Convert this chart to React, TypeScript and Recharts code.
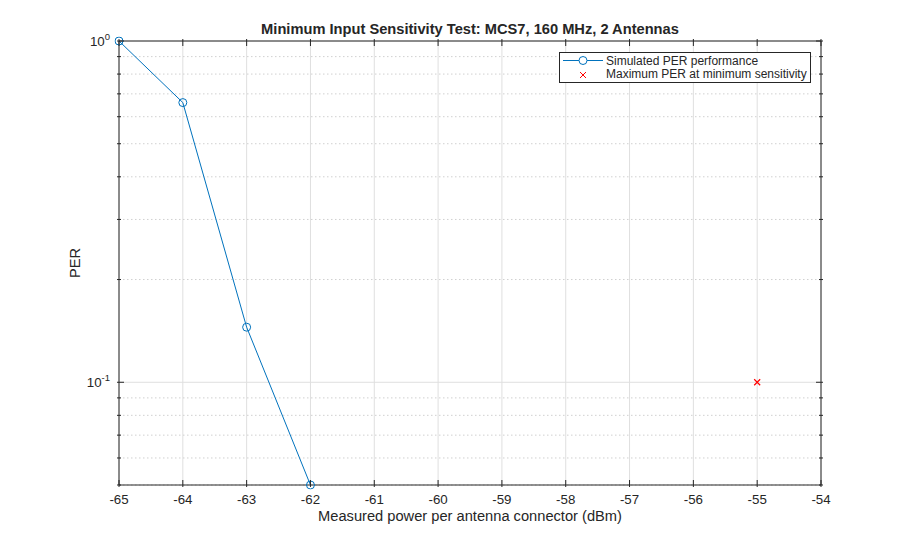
import { LineChart, Line, XAxis, YAxis, ReferenceLine } from 'recharts';

// ---------------------------------------------------------------------------
// Data
// ---------------------------------------------------------------------------

const powerLevels = [-65, -64, -63, -62];
const perValues = [1, 0.66, 0.145, 0.05];

const thresholdPower = [-55];
const thresholdPer = [0.1];

const xTicks = [-65, -64, -63, -62, -61, -60, -59, -58, -57, -56, -55, -54];
const yMajorTicks = [0.1, 1];
const yMinorTicks = [0.05, 0.06, 0.07, 0.08, 0.09, 0.2, 0.3, 0.4, 0.5, 0.6, 0.7, 0.8, 0.9];
const yTicks = [...yMinorTicks, ...yMajorTicks].sort((a, b) => a - b);
const yExponents: Record<number, string> = { 0.1: '-1', 1: '0' };

const seriesNames = ['Simulated PER performance', 'Maximum PER at minimum sensitivity'];
const chartTitle = 'Minimum Input Sensitivity Test: MCS7, 160 MHz, 2 Antennas';
const xLabel = 'Measured power per antenna connector (dBm)';
const yLabel = 'PER';

const perData = powerLevels.map((p, i) => ({ power: p, per: perValues[i] }));
const thresholdData = thresholdPower.map((p, i) => ({ power: p, per: thresholdPer[i] }));

const FONT = '"Liberation Sans", Arial, Helvetica, sans-serif';
const INK = '#262626';
const BLUE = '#0072BD';
const RED = '#FF0000';
const GRID = '#dfdfdf';
const MINOR_GRID = '#d0d0d0';

export default function App() {
  return (
    <div style={{ position: 'absolute', left: 0, top: 0, width: 908, height: 546, background: '#fff' }}>
      <LineChart
        width={908}
        height={546}
        margin={{ top: 40, right: 86, bottom: 60, left: 118 }}
      >
        {/* grid */}
        {xTicks.map((t) => (
          <ReferenceLine key={'gx' + t} x={t} stroke={GRID} strokeWidth={1} />
        ))}
        {yMinorTicks.map((t) => (
          <ReferenceLine key={'gm' + t} y={t} stroke={MINOR_GRID} strokeWidth={1} strokeDasharray="1.5 2.5" />
        ))}
        {yMajorTicks.map((t) => (
          <ReferenceLine key={'gy' + t} y={t} stroke={GRID} strokeWidth={1} />
        ))}

        <XAxis
          dataKey="power"
          type="number"
          domain={[-65, -54]}
          ticks={xTicks}
          interval={0}
          height={1}
          tickSize={0}
          tickLine={false}
          axisLine={{ stroke: INK }}
          tick={<BottomTick />}
          label={<XAxisLabel />}
          allowDataOverflow
        />
        <XAxis
          xAxisId="top"
          orientation="top"
          dataKey="power"
          type="number"
          domain={[-65, -54]}
          ticks={xTicks}
          interval={0}
          height={1}
          tickSize={0}
          tickLine={false}
          axisLine={{ stroke: INK }}
          tick={<TopTick />}
          label={<TitleLabel />}
          allowDataOverflow
        />
        <YAxis
          type="number"
          scale="log"
          domain={[0.05, 1]}
          ticks={yTicks}
          interval={0}
          width={1}
          tickSize={0}
          tickLine={false}
          axisLine={{ stroke: INK }}
          tick={<LeftTick />}
          label={<YAxisLabel />}
          allowDataOverflow
        />
        <YAxis
          yAxisId="right"
          orientation="right"
          type="number"
          scale="log"
          domain={[0.05, 1]}
          ticks={yTicks}
          interval={0}
          width={1}
          tickSize={0}
          tickLine={false}
          axisLine={{ stroke: INK }}
          tick={<RightTick />}
          allowDataOverflow
        />

        <Line
          data={perData}
          dataKey="per"
          name={seriesNames[0]}
          stroke={BLUE}
          strokeWidth={1}
          dot={{ r: 4, fill: 'none', stroke: BLUE, strokeWidth: 1, clipDot: false }}
          activeDot={false}
          isAnimationActive={false}
        />
        <Line
          data={thresholdData}
          dataKey="per"
          name={seriesNames[1]}
          stroke="none"
          dot={<CrossDot />}
          activeDot={false}
          isAnimationActive={false}
        />
      </LineChart>

      {/* Legend */}
      <svg
        width={252}
        height={31}
        style={{ position: 'absolute', left: 559, top: 52 }}
      >
        <rect x={0.5} y={0.5} width={251} height={30} fill="#fff" stroke={INK} strokeWidth={1} />
        <line x1={4} y1={8.5} x2={44} y2={8.5} stroke={BLUE} strokeWidth={1} />
        <circle cx={24} cy={8.5} r={4} fill="#fff" stroke={BLUE} strokeWidth={1} />
        <text x={47} y={12.5} fontFamily={FONT} fontSize={12} fill={INK}>
          {seriesNames[0]}
        </text>
        <path d="M21,20 L27,26 M27,20 L21,26" stroke={RED} strokeWidth={1} />
        <text x={47} y={26} fontFamily={FONT} fontSize={12} fill={INK}>
          {seriesNames[1]}
        </text>
      </svg>
    </div>
  );
}

// ---------------------------------------------------------------------------
// Ticks (MATLAB style: inward tick marks on all four sides)
// ---------------------------------------------------------------------------

function BottomTick(props: any) {
  const { x, y, payload } = props;
  return (
    <g>
      <line x1={x} y1={y} x2={x} y2={y - 7} stroke={INK} strokeWidth={1} />
      <text x={x} y={y + 17} textAnchor="middle" fontFamily={FONT} fontSize={13.3} fill={INK}>
        {payload.value}
      </text>
    </g>
  );
}

function TopTick(props: any) {
  const { x, y } = props;
  return <line x1={x} y1={y} x2={x} y2={y + 7} stroke={INK} strokeWidth={1} />;
}

function LeftTick(props: any) {
  const { x, y, payload } = props;
  const exp = yExponents[payload.value];
  const major = exp !== undefined;
  return (
    <g>
      <line x1={x} y1={y} x2={x + (major ? 7 : 4)} y2={y} stroke={INK} strokeWidth={1} />
      {major && (
        <text x={x - 7} y={y + 5} textAnchor="end" fontFamily={FONT} fontSize={13.3} fill={INK}>
          <tspan>10</tspan>
          <tspan dy={-6} fontSize={9.5}>{exp}</tspan>
        </text>
      )}
    </g>
  );
}

function RightTick(props: any) {
  const { x, y, payload } = props;
  const major = yExponents[payload.value] !== undefined;
  return <line x1={x} y1={y} x2={x - (major ? 7 : 4)} y2={y} stroke={INK} strokeWidth={1} />;
}

// ---------------------------------------------------------------------------
// Labels
// ---------------------------------------------------------------------------

function XAxisLabel(props: any) {
  const { viewBox } = props;
  return (
    <text
      x={viewBox.x + viewBox.width / 2}
      y={viewBox.y + 36}
      textAnchor="middle"
      fontFamily={FONT}
      fontSize={14.67}
      fill={INK}
    >
      {xLabel}
    </text>
  );
}

function TitleLabel(props: any) {
  const { viewBox } = props;
  return (
    <text
      x={viewBox.x + viewBox.width / 2}
      y={viewBox.y + viewBox.height - 7}
      textAnchor="middle"
      fontFamily={FONT}
      fontSize={14.67}
      fontWeight="bold"
      fill={INK}
    >
      {chartTitle}
    </text>
  );
}

function YAxisLabel(props: any) {
  const { viewBox } = props;
  const cx = viewBox.x + viewBox.width - 39;
  const cy = viewBox.y + viewBox.height / 2;
  return (
    <text
      x={cx}
      y={cy}
      transform={`rotate(-90 ${cx} ${cy})`}
      textAnchor="middle"
      fontFamily={FONT}
      fontSize={14.67}
      fill={INK}
    >
      {yLabel}
    </text>
  );
}

// ---------------------------------------------------------------------------
// Red "x" marker
// ---------------------------------------------------------------------------

function CrossDot(props: any) {
  const { cx, cy } = props;
  if (cx == null || cy == null) return null;
  const s = 3;
  return (
    <path
      d={`M${cx - s},${cy - s} L${cx + s},${cy + s} M${cx + s},${cy - s} L${cx - s},${cy + s}`}
      stroke={RED}
      strokeWidth={1.2}
      fill="none"
    />
  );
}
